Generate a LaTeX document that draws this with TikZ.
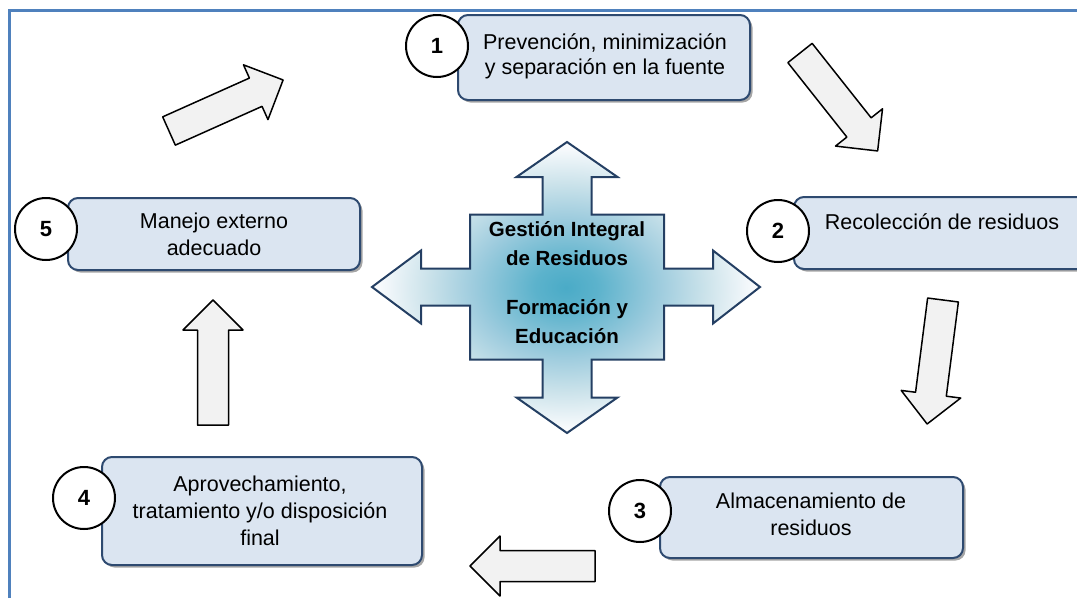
\documentclass[tikz,border=0pt]{standalone}
\usepackage{fontspec}
\setmainfont{Liberation Sans}
\usetikzlibrary{shadows}
\definecolor{frameblue}{HTML}{4F81BD}
\definecolor{boxfill}{HTML}{DBE5F1}
\definecolor{boxline}{HTML}{2E4A70}
\definecolor{crossline}{HTML}{243F63}
\definecolor{arrowfill}{HTML}{F2F2F2}
\pgfdeclareradialshading{crossshade}{\pgfpoint{0bp}{0bp}}{rgb(0bp)=(0.29,0.67,0.78); rgb(4bp)=(0.36,0.70,0.80); rgb(12bp)=(0.62,0.80,0.87); rgb(18bp)=(0.80,0.89,0.92); rgb(24bp)=(0.97,0.98,0.99); rgb(26bp)=(1,1,1); rgb(50bp)=(1,1,1)}
\tikzset{
  stepbox/.style={draw=boxline, line width=2pt, fill=boxfill, rounded corners=10pt, inner sep=0pt,
    drop shadow={shadow xshift=2.5pt, shadow yshift=-2.5pt, fill=black, opacity=0.35}},
  steplabel/.style={align=center, font=\fontsize{21.5}{27}\selectfont, inner sep=0pt},
  numcircle/.style={circle, draw=black, line width=2pt, fill=white, minimum size=62pt, inner sep=0pt,
    font=\bfseries\fontsize{22}{24}\selectfont},
  barrow/.style={draw=black, line width=1.5pt, fill=arrowfill, line join=round},
  blockarrow/.pic={
    \draw[barrow] (0,-15.5) -- (95,-15.5) -- (95,-30) -- (125,0) -- (95,30) -- (95,15.5) -- (0,15.5) -- cycle;
  },
  crosslabel/.style={align=center, font=\bfseries\fontsize{20.5}{29}\selectfont, inner sep=0pt},
}
\begin{document}
\begin{tikzpicture}[x=1pt, y=-1pt]
\useasboundingbox (0,0) rectangle (1077,598);
% frame
\draw[frameblue, line width=3pt] (9,598) -- (9,10) -- (1077,10);

% boxes
\node[stepbox, minimum width=292pt, minimum height=85pt] (b1) at (604,57.5) {};
\node[stepbox, minimum width=300pt, minimum height=72pt, anchor=west] (b2) at (793,233) {};
\node[stepbox, minimum width=303pt, minimum height=81pt] (b3) at (811.5,517.5) {};
\node[stepbox, minimum width=320pt, minimum height=108pt] (b4) at (262,511) {};
\node[stepbox, minimum width=292pt, minimum height=72pt] (b5) at (214,234) {};

% labels
\node[steplabel, font=\fontsize{21.5}{25}\selectfont] (t1) at (605,56) {Prevención, minimización\\y separación en la fuente};
\node[steplabel] (t2) at (942,222) {Recolección de residuos};
\node[steplabel] (t3) at (811,514) {Almacenamiento de\\residuos};
\node[steplabel] (t4) at (260,511) {Aprovechamiento,\\tratamiento y/o disposición\\final};
\node[steplabel] (t5) at (214,234) {Manejo externo\\adecuado};

% number circles
\node[numcircle] (c1) at (437,46) {1};
\node[numcircle] (c2) at (778,231) {2};
\node[numcircle] (c3) at (640,511) {3};
\node[numcircle] (c4) at (84,498) {4};
\node[numcircle] (c5) at (46,229) {5};

% block arrows between steps
\pic[rotate=24.1] (a51) at (169,131) {blockarrow};
\pic[rotate=-51.6] (a12) at (800,53) {blockarrow};
\pic[rotate=-97.3] (a23) at (943,300) {blockarrow};
\pic[rotate=180] (a34) at (595,566) {blockarrow};
\pic[rotate=90] (a45) at (213,425) {blockarrow};

% central cross
\draw[crossline, line width=2pt, line join=miter, shading=crossshade, shift={(567,287)}]
  (-97,-72.5) -- (-24.5,-72.5) -- (-24.5,-110) -- (-50.5,-110) -- (0,-145) -- (50.5,-110) -- (24.5,-110) -- (24.5,-72.5)
  -- (97,-72.5) -- (97,-18.5) -- (146,-18.5) -- (146,-36.5) -- (193,0) -- (146,36.5) -- (146,18.5) -- (97,18.5)
  -- (97,72.5) -- (24.5,72.5) -- (24.5,110.5) -- (50.5,110.5) -- (0,146) -- (-50.5,110.5) -- (-24.5,110.5) -- (-24.5,72.5)
  -- (-97,72.5) -- (-97,18.5) -- (-146,18.5) -- (-146,36.5) -- (-195,0) -- (-146,-36.5) -- (-146,-18.5) -- (-97,-18.5) -- cycle;
\node[crosslabel] (g1) at (567,244) {Gestión Integral\\de Residuos};
\node[crosslabel] (g2) at (567,322) {Formación y\\Educación};
\end{tikzpicture}
\end{document}
